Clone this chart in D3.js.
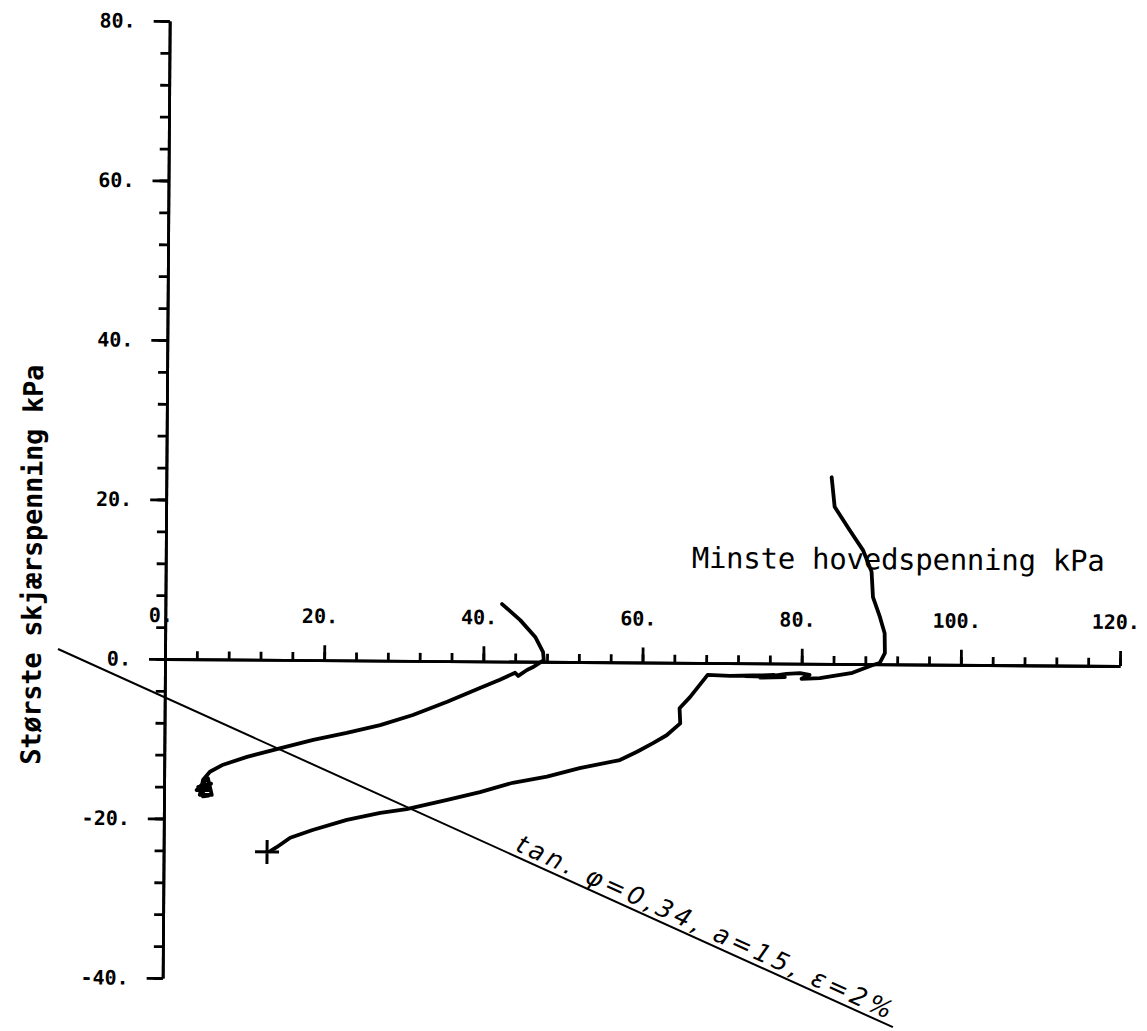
<!DOCTYPE html>
<html>
<head>
<meta charset="utf-8">
<script src="https://cdn.jsdelivr.net/npm/d3@7"></script>
<style>
  body { margin: 0; background: #fff; }
  svg { display: block; }
</style>
</head>
<body>
<div id="wrapper"></div>
<script>
// tick values
const xMajor = [0, 20, 40, 60, 80, 100, 120]
const xMinor = d3.range(0, 121, 4)
const yMajor = [-40, -20, 0, 20, 40, 60, 80]
const yMinor = d3.range(-40, 81, 4)

const xTitle = "Minste hovedspenning kPa"
const yTitle = "Største skjærspenning kPa"
const noteText = "tan.  φ=0,34,  a=15,  ε=2%"

// stress path 1 (ends in the blob near x=5)
const pathA = [
  [42.3, 7.2], [44.6, 5.2], [46.5, 3.1], [47.5, 1.2], [47.6, 0.2],
  [46.2, -0.7], [45.5, -1.05], [44.4, -1.8], [44.0, -1.4], [42.1, -2.3],
  [39.6, -3.35], [35.5, -5.1], [31.2, -6.8], [27.1, -8.1], [22.9, -9.1],
  [18.7, -10.0], [14.5, -11.1], [10.4, -12.2], [7.4, -13.2], [5.75, -14.1],
  [4.9, -15.1], [4.5, -17.0], [6.0, -17.0], [5.5, -14.9], [4.1, -16.4],
  [5.8, -16.4], [4.3, -16.0], [5.9, -15.6], [4.6, -16.9], [5.6, -17.1],
  [4.9, -17.2],
]

// stress path 2 (ends in the + marker)
const pathB = [
  [83.6, 23.4], [84.0, 19.7], [85.9, 16.8], [87.6, 14.3], [88.7, 11.6],
  [88.9, 8.4], [89.8, 5.9], [90.4, 3.9], [90.45, 1.4], [89.8, 0.15],
  [88.95, -0.1], [87.3, -0.75], [86.4, -1.1], [82.3, -1.8], [80.0, -1.9],
  [81.0, -1.4], [79.8, -1.2], [78.1, -1.3], [74.8, -1.8], [77.9, -1.7],
  [72.9, -1.6], [76.6, -1.45], [71.0, -1.6], [68.2, -1.5], [66.0, -4.3],
  [64.7, -5.7], [64.8, -7.6], [63.1, -9.1], [61.4, -10.1], [59.4, -11.2],
  [57.25, -12.25], [52.2, -13.3], [48.1, -14.4], [43.8, -15.2], [39.7, -16.4],
  [35.6, -17.4], [30.5, -18.6], [27.2, -19.1], [23.0, -20.0], [18.7, -21.3],
  [15.9, -22.3], [14.2, -23.5], [13.4, -24.0],
]
const endMark = [13.0, -24.1]

// failure line
const guide = [[-13.45, 1.16], [91.8, -45.5]]
const noteAt = 43.8

const dimensions = {
  width: 1147,
  height: 1031,
  origin: { x: 165, y: 659 },
  tilt: 0.42, // scanned sheet is a bit skewed
}

const svg = d3
  .select("#wrapper")
  .append("svg")
  .attr("width", dimensions.width)
  .attr("height", dimensions.height)

svg.append("rect").attr("width", dimensions.width).attr("height", dimensions.height).attr("fill", "#fff")

const bounds = svg
  .append("g")
  .attr("transform", `translate(${dimensions.origin.x},${dimensions.origin.y}) rotate(${dimensions.tilt})`)

const xScale = d3.scaleLinear().domain([0, 120]).range([0, 955])
const yScale = d3.scaleLinear().domain([-40, 80]).range([319, -638])

const labelFont = "'DejaVu Sans Mono', monospace"
const fmt = (d) => `${d}.`

const styleAxis = (g) => {
  g.attr("font-size", null).attr("font-family", null)
  g.select(".domain").attr("stroke-width", 2.8).attr("stroke", "#000")
  g.selectAll(".tick line").attr("stroke-width", 2.8).attr("stroke", "#000")
  g.selectAll(".tick text")
    .attr("fill", "#000")
    .style("font-family", labelFont)
    .style("font-weight", "bold")
    .style("font-size", "20px")
}

// y axis
bounds.append("g")
  .call(d3.axisLeft(yScale).tickValues(yMinor).tickSize(9).tickSizeOuter(0).tickFormat(""))
  .call(styleAxis)
bounds.append("g")
  .call(d3.axisLeft(yScale).tickValues(yMajor).tickSize(16).tickSizeOuter(0).tickPadding(18).tickFormat(fmt))
  .call(styleAxis)

// x axis
bounds.append("g")
  .call(d3.axisTop(xScale).tickValues(xMinor).tickSize(8).tickSizeOuter(0).tickFormat(""))
  .call(styleAxis)
bounds.append("g")
  .call(d3.axisTop(xScale).tickValues(xMajor).tickSize(15).tickSizeOuter(0).tickPadding(22).tickFormat(fmt))
  .call(styleAxis)
  .call((g) => g.selectAll(".tick text").attr("dx", -5))

// axis titles
bounds.append("text")
  .attr("x", xScale(66.1))
  .attr("y", yScale(11.9))
  .style("font-family", labelFont)
  .style("font-size", "29px")
  .attr("textLength", 413)
  .attr("lengthAdjust", "spacing")
  .text(xTitle)

bounds.append("text")
  .attr("transform", `translate(${xScale(-15.6)},${yScale(11.7)}) rotate(-90)`)
  .attr("text-anchor", "middle")
  .style("font-family", labelFont)
  .style("font-weight", "bold")
  .style("font-size", "27px")
  .attr("textLength", 400)
  .attr("lengthAdjust", "spacing")
  .text(yTitle)

// failure line + note
const lineGenerator = d3.line().x((d) => xScale(d[0])).y((d) => yScale(d[1]))

bounds.append("path")
  .attr("d", lineGenerator(guide))
  .attr("fill", "none")
  .attr("stroke", "#000")
  .attr("stroke-width", 2)

const slope = (guide[1][1] - guide[0][1]) / (guide[1][0] - guide[0][0])
const noteY = guide[0][1] + (noteAt - guide[0][0]) * slope
const angle = (Math.atan2(yScale(guide[1][1]) - yScale(guide[0][1]), xScale(guide[1][0]) - xScale(guide[0][0])) * 180) / Math.PI

bounds.append("text")
  .attr("transform", `translate(${xScale(noteAt)},${yScale(noteY)}) rotate(${angle})`)
  .attr("dy", -5)
  .style("font-family", "'DejaVu Sans', sans-serif")
  .style("font-style", "italic")
  .style("font-weight", 200)
  .style("font-size", "25px")
  .attr("textLength", 410)
  .attr("lengthAdjust", "spacing")
  .text(noteText)

// stress paths
;[pathA, pathB].forEach((data) => {
  bounds.append("path")
    .attr("d", lineGenerator(data))
    .attr("fill", "none")
    .attr("stroke", "#000")
    .attr("stroke-width", 3.8)
    .attr("stroke-linejoin", "round")
    .attr("stroke-linecap", "round")
})

const mx = xScale(endMark[0])
const my = yScale(endMark[1])
bounds.append("path")
  .attr("d", `M${mx - 12},${my}H${mx + 12}M${mx},${my - 12}V${my + 12}`)
  .attr("stroke", "#000")
  .attr("stroke-width", 3)
</script>
</body>
</html>
